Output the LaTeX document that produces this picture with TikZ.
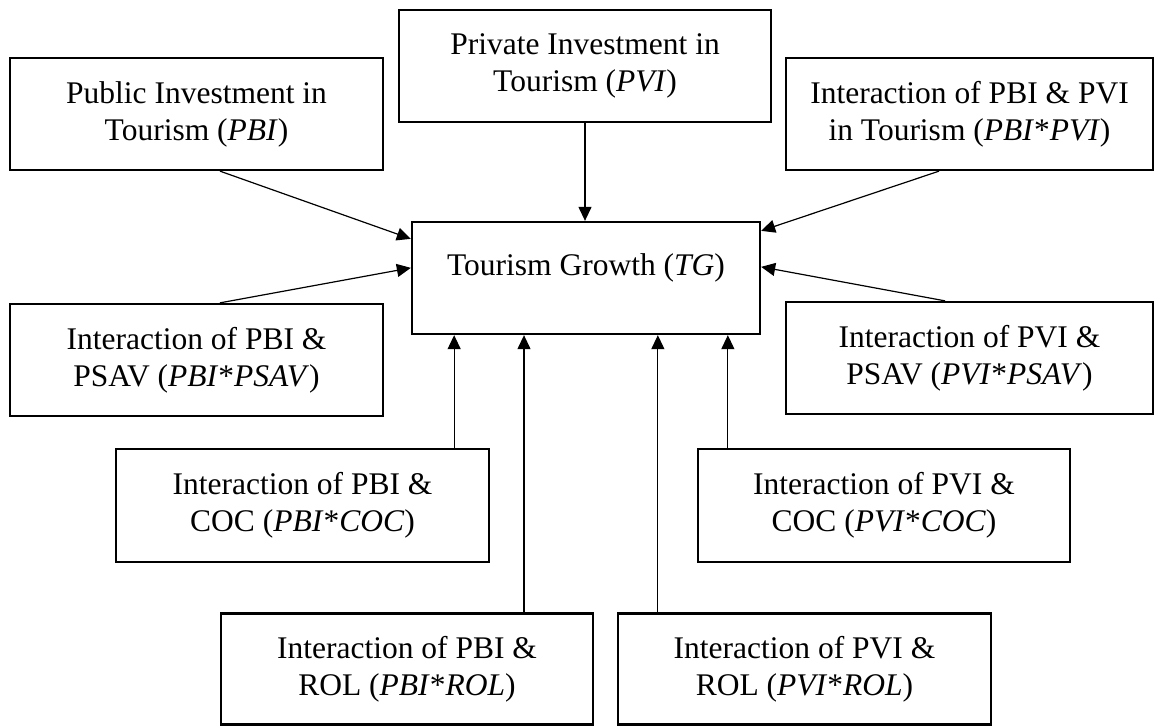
\documentclass[tikz,border=0pt]{standalone}
\usepackage{fontspec}
\setmainfont{Liberation Serif}
\usetikzlibrary{arrows.meta}
\begin{document}
\begin{tikzpicture}[x=1pt,y=-1pt,
  box/.style={draw, line width=2.3pt, rectangle, inner sep=0pt, align=center,
    font=\fontsize{31.5}{37}\selectfont},
  arr/.style={line width=1.2pt, -{Triangle[length=14pt,width=13pt]}}]
\useasboundingbox (0,0) rectangle (1158,726);
% boxes
\node[box, minimum width=373pt, minimum height=112pt] (pbi) at (196.5,114) {Public Investment in\\ Tourism (\textit{PBI})};
\node[box, minimum width=372pt, minimum height=112pt] (pvi) at (585,66) {Private Investment in\\ Tourism (\textit{PVI})};
\node[box, minimum width=367pt, minimum height=112pt] (pbipvi) at (969.5,114) {Interaction of PBI \& PVI\\ in Tourism (\textit{PBI}*\textit{PVI})};
\node[box, minimum width=348pt, minimum height=112pt] (tg) at (586,278) {\raisebox{10pt}[\height][\depth]{Tourism Growth (\textit{TG})}};
\node[box, minimum width=373pt, minimum height=112pt] (pbipsav) at (196.5,360) {Interaction of PBI \&\\ PSAV (\textit{PBI}*\textit{PSAV})};
\node[box, minimum width=367pt, minimum height=112pt] (pvipsav) at (969.5,358) {Interaction of PVI \&\\ PSAV (\textit{PVI}*\textit{PSAV})};
\node[box, minimum width=373pt, minimum height=113pt] (pbicoc) at (302.5,505.5) {Interaction of PBI \&\\ COC (\textit{PBI}*\textit{COC})};
\node[box, minimum width=372pt, minimum height=113pt] (pvicoc) at (884,505.5) {Interaction of PVI \&\\ COC (\textit{PVI}*\textit{COC})};
\node[box, minimum width=372pt, minimum height=111pt] (pbirol) at (407,669) {Interaction of PBI \&\\ ROL (\textit{PBI}*\textit{ROL})};
\node[box, minimum width=373pt, minimum height=111pt] (pvirol) at (804.5,669) {Interaction of PVI \&\\ ROL (\textit{PVI}*\textit{ROL})};
% connectors
\draw[arr] (pvi.south) -- (pvi.south |- tg.north);
\draw[arr] ([xshift=23.5pt]pbi.south) -- ([yshift=-18pt]tg.north west);
\draw[arr] ([xshift=-30.5pt]pbipvi.south) -- ([yshift=-10pt]tg.north east);
\draw[arr] ([xshift=23.5pt]pbipsav.north) -- ([yshift=-47pt]tg.north west);
\draw[arr] ([xshift=-24.5pt]pvipsav.north) -- ([yshift=-46pt]tg.north east);
\draw[arr] ([xshift=-36pt]pbicoc.north east) -- ([xshift=-36pt]pbicoc.north east |- tg.south);
\draw[arr] ([xshift=117pt]pbirol.north) -- ([xshift=117pt]pbirol.north |- tg.south);
\draw[arr] ([xshift=41pt]pvirol.north west) -- ([xshift=41pt]pvirol.north west |- tg.south);
\draw[arr] ([xshift=31pt]pvicoc.north west) -- ([xshift=31pt]pvicoc.north west |- tg.south);
\end{tikzpicture}
\end{document}
